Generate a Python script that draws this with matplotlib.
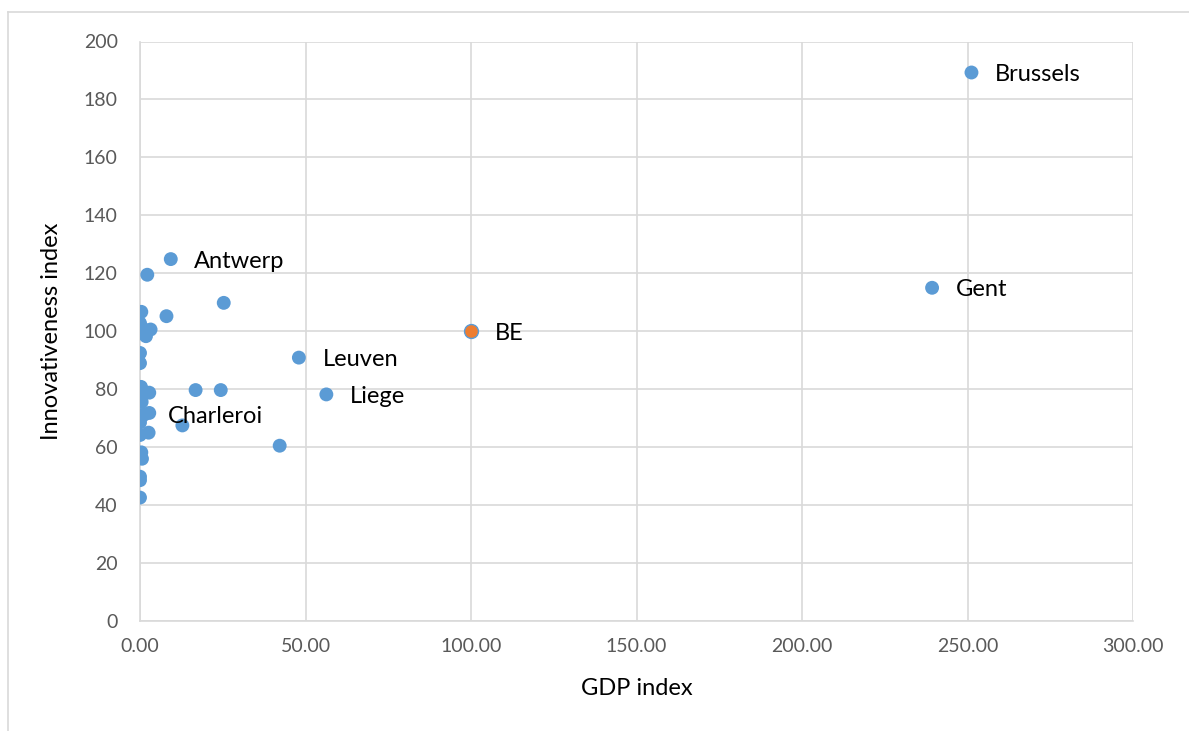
import matplotlib
matplotlib.use("Agg")
import matplotlib.pyplot as plt
from matplotlib.lines import Line2D

# Regional GDP index vs innovativeness index
gdp_index = [9.3, 2.2, 25.3, 0.4, 8.0, 0.0, 0.8, 3.2, 1.8, 0.0, 0.0, 48.0,
             0.3, 2.8, 0.0, 0.5, 2.8, 0.0, 1.2, 0.0, 0.2, 2.6, 0.0, 0.4, 0.6,
             0.0, 0.0, 0.0, 16.8, 24.4, 12.8, 42.2, 56.3, 239.3, 251.2]
innov_index = [124.9, 119.5, 109.8, 106.7, 105.2, 102.8, 101.0, 100.6, 98.3, 92.5, 89.0, 90.9,
               80.8, 78.8, 77.3, 75.6, 71.8, 71.0, 71.2, 68.5, 70.2, 65.0, 64.2, 58.2, 56.0,
               49.8, 48.6, 42.6, 79.7, 79.7, 67.5, 60.5, 78.2, 115.0, 189.3]
point_names = ["Antwerp", "", "", "", "", "", "", "", "", "", "", "Leuven",
               "", "", "", "", "", "", "Charleroi", "", "", "", "", "", "",
               "", "", "", "", "", "", "", "Liege", "Gent", "Brussels"]

# National reference point
be_gdp = [100.0]
be_innov = [100.0]
be_name = "BE"

x_ticks = [0, 50, 100, 150, 200, 250, 300]
y_ticks = [0, 20, 40, 60, 80, 100, 120, 140, 160, 180, 200]

BLUE = "#5B9BD5"
ORANGE = "#ED7D31"
GRID = "#D9D9D9"
TICK = "#595959"

plt.rcParams["font.family"] = ["Lato", "DejaVu Sans"]

fig = plt.figure(figsize=(11.89, 7.31), dpi=100)
ax = fig.add_axes([140 / 1189, 1 - 621 / 731, (1133 - 140) / 1189, (621 - 41.5) / 731])

ax.scatter(gdp_index, innov_index, s=100, color=BLUE, edgecolors="none", zorder=3)
ax.scatter(be_gdp, be_innov, s=100, color=ORANGE, edgecolors=BLUE, linewidths=1.0, zorder=4)

for xv, yv, name in zip(gdp_index, innov_index, point_names):
    if name:
        ax.annotate(name, (xv, yv), xytext=(17, -1.5), textcoords="offset points",
                    ha="left", va="center", fontsize=17, color="black", zorder=5)
ax.annotate(be_name, (be_gdp[0], be_innov[0]), xytext=(17, -1.5), textcoords="offset points",
            ha="left", va="center", fontsize=17, color="black", zorder=5)

ax.set_xlim(0, 300)
ax.set_ylim(0, 200)
ax.set_xticks(x_ticks)
ax.set_xticklabels([f"{v:.2f}" for v in x_ticks])
ax.set_yticks(y_ticks)
ax.set_yticklabels([str(v) for v in y_ticks])
ax.tick_params(axis="both", length=0, labelsize=14, colors=TICK, pad=12)
ax.tick_params(axis="y", pad=16)

ax.grid(True, color=GRID, linewidth=1.2, zorder=0)
ax.set_axisbelow(True)
for side in ["top", "right"]:
    ax.spines[side].set_visible(False)
for side in ["left", "bottom"]:
    ax.spines[side].set_color(GRID)
    ax.spines[side].set_linewidth(1.2)

ax.set_xlabel("GDP index", fontsize=17, color="black", labelpad=17)
ax.set_ylabel("Innovativeness index", fontsize=17, color="black", labelpad=16)

# Chart frame
fig.add_artist(Line2D([7.5 / 1189, 7.5 / 1189], [0, 1 - 12 / 731], transform=fig.transFigure,
                      color=GRID, linewidth=1.2))
fig.add_artist(Line2D([7.5 / 1189, 1], [1 - 12 / 731, 1 - 12 / 731], transform=fig.transFigure,
                      color=GRID, linewidth=1.2))

fig.savefig("out.png", dpi=100)
